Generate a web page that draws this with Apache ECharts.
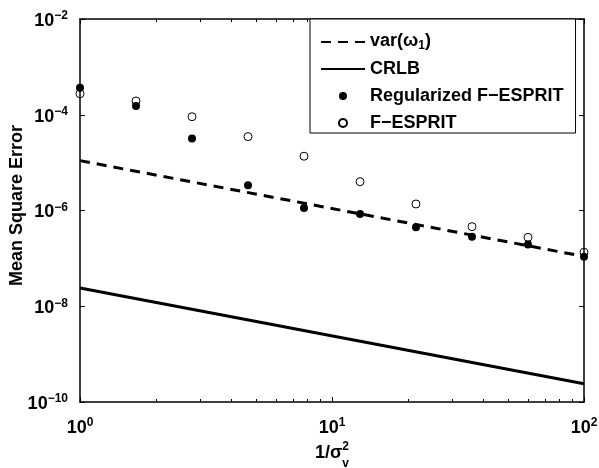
<!DOCTYPE html>
<html>
<head>
<meta charset="utf-8">
<script src="https://cdn.jsdelivr.net/npm/echarts@6/dist/echarts.min.js"></script>
<style>html,body{margin:0;padding:0;background:#fff}#c{width:599px;height:468px}</style>
</head>
<body>
<div id="c"></div>
<script>
// ---- data ----
const xPoints = [1, 1.668, 2.783, 4.642, 7.743, 12.92, 21.54, 35.94, 59.95, 100];
const regularized = [3.67e-4, 1.52e-4, 3.2e-5, 3.36e-6, 1.13e-6, 8.45e-7, 4.45e-7, 2.84e-7, 1.94e-7, 1.08e-7];
const fEsprit = [2.75e-4, 1.94e-4, 9.1e-5, 3.5e-5, 1.36e-5, 4.0e-6, 1.37e-6, 4.6e-7, 2.75e-7, 1.34e-7];
const varX = [1, 100];
const varY = [1.1e-5, 1.1e-7];
const crlbX = [1, 100];
const crlbY = [2.4e-8, 2.4e-10];
const xMajorTicks = [1, 10, 100];
const xMinorTicks = [2, 3, 4, 5, 6, 7, 8, 9, 20, 30, 40, 50, 60, 70, 80, 90];
const yMajorTicks = [1e-10, 1e-8, 1e-6, 1e-4, 1e-2];
const seriesNames = ['var(ω1)', 'CRLB', 'Regularized F−ESPRIT', 'F−ESPRIT'];

const FONT = '"Liberation Sans", Arial, Helvetica, sans-serif';
const zip = (xs, ys) => xs.map((x, i) => [x, ys[i]]);
const lg = arr => arr.map(v => Math.log10(v));
const expLabel = v => {
  const e = Math.round(Math.log10(v));
  return '{b|10}{s|' + (e < 0 ? '−' + (-e) : e) + '}';
};
const labelRich = {
  b: {fontSize: 18, fontWeight: 'bold', fontFamily: FONT, color: '#000', lineHeight: 18, padding: [7, 0, 3, 0]},
  s: {fontSize: 12, fontWeight: 'bold', fontFamily: FONT, color: '#000', lineHeight: 12, verticalAlign: 'top'}
};
const axisLine = {show: true, onZero: false, lineStyle: {color: '#000', width: 1.5}};
const noLine = {show: false, onZero: false};
// tick-only axes in exponent space (decoration, aligned with the log axes)
const tickAxis = (pos, min, max, vals, len) => ({
  type: 'value', min, max, position: pos, axisLine: noLine, axisLabel: {show: false},
  splitLine: {show: false}, minorTick: {show: false},
  axisTick: {show: true, inside: true, length: len, customValues: vals, lineStyle: {color: '#000', width: 1}}
});

const chart = echarts.init(document.getElementById('c'), null, {renderer: 'canvas'});
chart.setOption({
  animation: false,
  backgroundColor: '#fff',
  grid: {left: 80, top: 19, right: 15, bottom: 66, containLabel: false, outerBoundsMode: 'none'},
  legend: {
    orient: 'vertical', left: 310, top: 19, align: 'left',
    padding: [13, 12, 0, 10], itemGap: 7, itemWidth: 44, itemHeight: 8,
    backgroundColor: '#fff', borderColor: '#000', borderWidth: 1,
    data: [
      {name: seriesNames[0], itemStyle: {color: 'rgba(0,0,0,0)', borderWidth: 0}},
      {name: seriesNames[1], itemStyle: {color: 'rgba(0,0,0,0)', borderWidth: 0}},
      {name: seriesNames[2]},
      {name: seriesNames[3]}
    ],
    textStyle: {
      fontSize: 18, fontWeight: 'bold', fontFamily: FONT, color: '#000', lineHeight: 20,
      rich: {
        a: {fontSize: 18, fontWeight: 'bold', fontFamily: FONT, color: '#000', lineHeight: 20, padding: [0, 0, 2, 0]},
        sub: {fontSize: 12, fontWeight: 'bold', fontFamily: FONT, color: '#000', lineHeight: 12, verticalAlign: 'bottom'}
      }
    },
    formatter: n => n === seriesNames[0] ? '{a|var(ω}{sub|1}{a|)}' : n
  },
  xAxis: [
    {type: 'log', logBase: 10, min: 1, max: 100, position: 'bottom', axisLine,
     axisTick: {show: false},
     axisLabel: {show: true, margin: 15, customValues: xMajorTicks, formatter: expLabel, rich: labelRich},
     splitLine: {show: false}, minorTick: {show: false},
     name: '{b|1/σ}{sup|2}\n{sp|1/σ}{sub|v}', nameLocation: 'middle', nameGap: 39, nameMoveOverlap: false,
     nameTextStyle: {
       align: 'center', verticalAlign: 'top',
       rich: {
         b: {fontSize: 18, fontWeight: 'bold', fontFamily: FONT, color: '#000', lineHeight: 18, padding: [6, 0, 0, 0]},
         sup: {fontSize: 12, fontWeight: 'bold', fontFamily: FONT, color: '#000', lineHeight: 12, verticalAlign: 'top'},
         sp: {fontSize: 18, fontWeight: 'bold', fontFamily: FONT, color: 'rgba(0,0,0,0)', lineHeight: 10},
         sub: {fontSize: 12, fontWeight: 'bold', fontFamily: FONT, color: '#000', lineHeight: 10}
       }
     }},
    {type: 'log', logBase: 10, min: 1, max: 100, position: 'top', axisLine,
     axisTick: {show: false}, axisLabel: {show: false}, splitLine: {show: false}},
    tickAxis('bottom', 0, 2, lg(xMajorTicks), 5),
    tickAxis('bottom', 0, 2, lg(xMinorTicks), 3),
    tickAxis('top', 0, 2, lg(xMajorTicks), 5),
    tickAxis('top', 0, 2, lg(xMinorTicks), 3)
  ],
  yAxis: [
    {type: 'log', logBase: 10, min: 1e-10, max: 1e-2, position: 'left', axisLine,
     axisTick: {show: false},
     axisLabel: {show: true, margin: 12, customValues: yMajorTicks, formatter: expLabel, rich: labelRich},
     splitLine: {show: false},
     name: 'Mean Square Error', nameLocation: 'middle', nameGap: 54, nameRotate: 90, nameMoveOverlap: false,
     nameTextStyle: {fontSize: 18, fontWeight: 'bold', fontFamily: FONT, color: '#000', padding: [0, 0, 0, 10]}},
    {type: 'log', logBase: 10, min: 1e-10, max: 1e-2, position: 'right', axisLine,
     axisTick: {show: false}, axisLabel: {show: false}, splitLine: {show: false}},
    tickAxis('left', -10, -2, lg(yMajorTicks), 5),
    tickAxis('right', -10, -2, lg(yMajorTicks), 5)
  ],
  series: [
    {name: seriesNames[0], type: 'line', xAxisIndex: 0, yAxisIndex: 0, data: zip(varX, varY),
     symbol: 'none', lineStyle: {color: '#000', width: 3, type: [10, 7]}, itemStyle: {color: '#000'}},
    {name: seriesNames[1], type: 'line', xAxisIndex: 0, yAxisIndex: 0, data: zip(crlbX, crlbY),
     symbol: 'none', lineStyle: {color: '#000', width: 3, type: 'solid'}, itemStyle: {color: '#000'}},
    {name: seriesNames[2], type: 'scatter', xAxisIndex: 0, yAxisIndex: 0, data: zip(xPoints, regularized),
     symbol: 'circle', symbolSize: 8, itemStyle: {color: '#000', opacity: 1}},
    {name: seriesNames[3], type: 'scatter', xAxisIndex: 0, yAxisIndex: 0, data: zip(xPoints, fEsprit),
     symbol: 'circle', symbolSize: 8, itemStyle: {color: 'rgba(0,0,0,0)', borderColor: '#000', borderWidth: 1, opacity: 1}}
  ]
});
</script>
</body>
</html>
